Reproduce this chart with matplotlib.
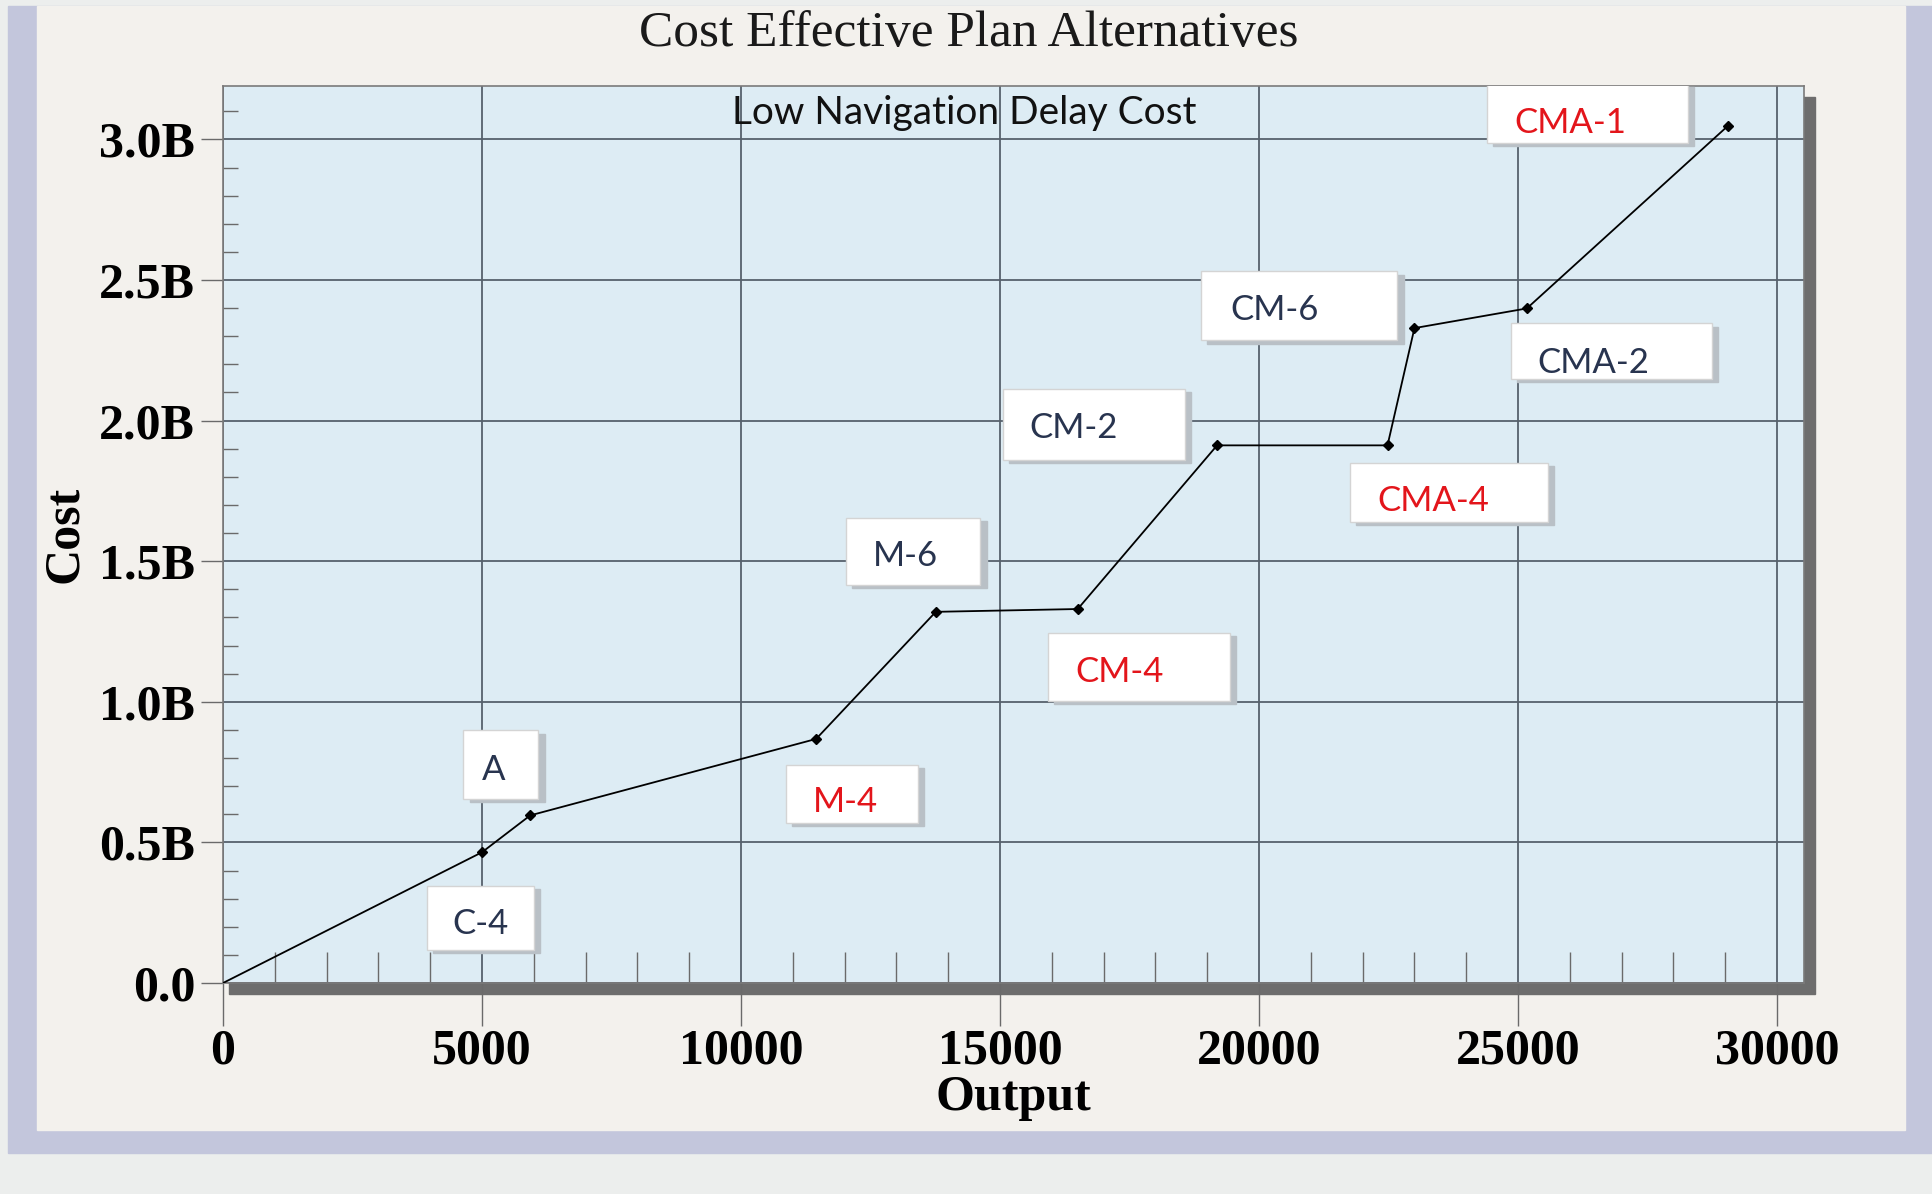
import numpy as np
import matplotlib.pyplot as plt
from matplotlib.patches import Rectangle
from matplotlib.ticker import MultipleLocator, FuncFormatter

# Data (output units, cost in billions)
plans = ["C-4", "A", "M-4", "M-6", "CM-4", "CM-2", "CMA-4", "CM-6", "CMA-2", "CMA-1"]
output = [5000, 5930, 11450, 13760, 16500, 19190, 22480, 23000, 25170, 29050]
cost_b = [0.465, 0.596, 0.868, 1.32, 1.33, 1.912, 1.912, 2.329, 2.399, 3.048]
red_plans = ["M-4", "CM-4", "CMA-4", "CMA-1"]

# label box layout in data units: (x0, y0, width, height), text x, text y
box_layout = {
    "C-4":   (3930, 0.118, 2070, 0.228, 4430, 0.211),
    "A":     (4640, 0.654, 1450, 0.245, 5000, 0.759),
    "M-4":   (10860, 0.570, 2550, 0.206, 11380, 0.645),
    "M-6":   (12020, 1.417, 2600, 0.237, 12550, 1.518),
    "CM-4":  (15930, 1.004, 3500, 0.242, 16450, 1.105),
    "CM-2":  (15050, 1.860, 3520, 0.254, 15570, 1.974),
    "CMA-4": (21760, 1.640, 3810, 0.211, 22290, 1.715),
    "CM-6":  (18880, 2.285, 3790, 0.246, 19450, 2.395),
    "CMA-2": (24860, 2.149, 3880, 0.197, 25380, 2.206),
    "CMA-1": (24400, 2.987, 3880, 0.210, 24930, 3.057),
}

W, H = 1933, 1194
fig = plt.figure(figsize=(W / 100, H / 100), dpi=100, facecolor="#eceeed")

# page background: bluish frame and beige panel
fig.patches.append(Rectangle((8 / W, 1 - 1153 / H), 1 - 8 / W, 1147 / H,
                             transform=fig.transFigure, color="#c3c6dc", zorder=0))
fig.patches.append(Rectangle((37 / W, 1 - 1130 / H), 1868 / W, 1124 / H,
                             transform=fig.transFigure, color="#f3f1ed", zorder=0))

ax_l, ax_r, ax_t, ax_b = 223, 1804, 86, 983
# drop shadow behind the plot area
fig.patches.append(Rectangle(((ax_l + 6) / W, 1 - (ax_b + 11) / H),
                             (ax_r - ax_l + 5) / W, (ax_b - ax_t) / H,
                             transform=fig.transFigure, color="#6d6d6d", zorder=1))

ax = fig.add_axes([ax_l / W, 1 - ax_b / H, (ax_r - ax_l) / W, (ax_b - ax_t) / H])
ax.set_facecolor("#ddecf4")
ax.set_zorder(2)

xs = [0] + output
ys = [0] + cost_b
ax.plot(xs, ys, color="black", lw=1.3, zorder=4)
ax.plot(output, cost_b, "D", color="black", ms=5, zorder=5)

ax.set_xlim(0, 30520)
ax.set_ylim(0, 3.19)

ax.xaxis.set_major_locator(MultipleLocator(5000))
ax.xaxis.set_minor_locator(MultipleLocator(1000))
ax.yaxis.set_major_locator(MultipleLocator(0.5))
ax.yaxis.set_minor_locator(MultipleLocator(0.1))
ax.yaxis.set_major_formatter(FuncFormatter(lambda v, p: "0.0" if v == 0 else f"{v:.1f}B"))

ax.grid(which="major", color="#56616c", lw=1.3)
ax.set_axisbelow(True)

ax.tick_params(axis="x", which="major", direction="out", length=31, width=1,
               color="#6a6a6a", pad=2)
ax.tick_params(axis="x", which="minor", direction="in", length=22, width=1, color="#6a6a6a")
ax.tick_params(axis="y", which="major", direction="out", length=16, width=1,
               color="#6a6a6a", pad=4)
ax.tick_params(axis="y", which="minor", direction="in", length=11, width=1, color="#6a6a6a")

for lab in ax.get_xticklabels() + ax.get_yticklabels():
    lab.set_fontfamily("Liberation Serif")
    lab.set_fontweight("bold")
    lab.set_fontsize(36)

for s in ax.spines.values():
    s.set_color("#7a7a7a")
    s.set_linewidth(1.2)

ax.set_xlabel("Output", family="Liberation Serif", weight="bold", fontsize=36, labelpad=0)
ax.set_ylabel("Cost", family="Liberation Serif", weight="bold", fontsize=36, labelpad=8)

fig.text(786 * 1.2328 / W, 1 - 27 * 1.2328 / H, "Cost Effective Plan Alternatives",
         family="Liberation Serif", fontsize=37, ha="center", va="center", color="#1a1a1a")

ax.text(0.469, 0.99, "Low Navigation Delay Cost", transform=ax.transAxes,
        family="Lato", fontsize=28, ha="center", va="top", color="#111111", zorder=6)

# plan labels in white boxes
for name in plans:
    x0, y0, w, h, tx, ty = box_layout[name]
    ax.add_patch(Rectangle((x0 + 120, y0 - 0.012), w, h, color="#b9c0c6", zorder=5))
    ax.add_patch(Rectangle((x0, y0), w, h, facecolor="white", edgecolor="#d4d4d4",
                           lw=1, zorder=6))
    col = "#e3151b" if name in red_plans else "#28344f"
    ax.text(tx, ty, name, family="Lato", fontsize=25, color=col,
            ha="left", va="center", zorder=7)

fig.savefig("out.png", dpi=100, facecolor=fig.get_facecolor())
